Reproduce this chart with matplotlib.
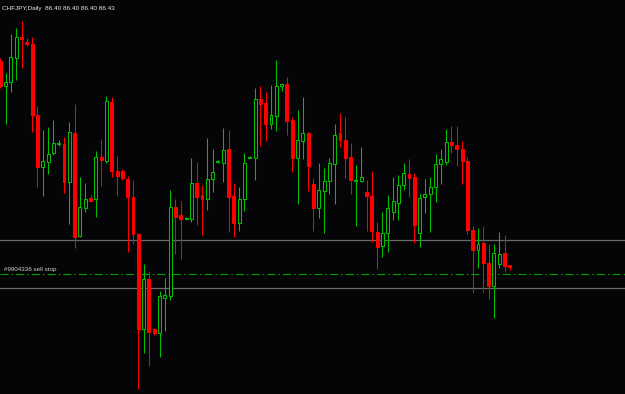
"""CHFJPY daily candlestick chart, MetaTrader style."""
import matplotlib
matplotlib.use("Agg")
import matplotlib.pyplot as plt
import numpy as np

SYMBOL = "CHFJPY,Daily"
HEADER_PRICES = ["86.40", "86.40", "86.40", "86.43"]

opens = [88.46, 88.21, 88.25, 88.49, 88.70, 88.65, 88.63, 87.92, 87.40, 87.45,
         87.54, 87.63, 87.63, 87.25, 87.74, 86.71, 86.99, 87.09, 87.08, 87.50,
         87.46, 88.05, 87.36, 87.36, 87.28, 87.10, 86.73, 85.78, 86.28, 85.78,
         85.74, 86.09, 86.11, 87.00, 86.92, 86.88, 86.88, 87.24, 87.12, 87.08,
         87.28, 87.45, 87.44, 87.58, 87.11, 86.84, 87.08, 87.49, 87.49, 88.08,
         88.04, 87.83, 87.91, 88.21, 88.23, 87.87, 87.49, 87.66, 87.74, 87.23,
         86.99, 87.16, 87.26, 87.43, 87.74, 87.67, 87.50, 87.26, 87.26, 87.15,
         87.11, 86.75, 86.61, 86.74, 86.95, 87.04, 87.22, 87.33, 87.30, 86.74,
         87.10, 87.13, 87.20, 87.43, 87.45, 87.65, 87.62, 87.58, 87.46, 86.77,
         86.57, 86.64, 86.44, 86.21, 86.43, 86.54, 86.42]
highs = [88.49, 88.34, 88.73, 88.79, 88.86, 88.69, 88.70, 88.01, 87.77, 87.80,
         87.87, 87.67, 87.70, 87.85, 88.03, 87.30, 87.24, 87.12, 87.56, 87.68,
         88.11, 88.10, 87.51, 87.38, 87.31, 87.27, 86.74, 86.43, 86.35, 85.79,
         86.16, 86.29, 87.17, 87.08, 87.06, 86.90, 87.49, 87.45, 87.22, 87.69,
         87.58, 87.47, 87.79, 87.77, 87.24, 87.20, 87.54, 87.51, 88.19, 88.21,
         88.15, 88.22, 88.47, 88.24, 88.30, 87.90, 87.97, 88.10, 87.75, 87.29,
         87.44, 87.39, 87.49, 87.83, 87.94, 87.90, 87.64, 87.42, 87.60, 87.27,
         87.36, 86.85, 86.95, 87.12, 87.30, 87.32, 87.44, 87.48, 87.34, 87.14,
         87.28, 87.30, 87.53, 87.58, 87.78, 87.81, 87.81, 87.66, 87.50, 86.81,
         86.79, 86.81, 86.63, 86.63, 86.75, 86.72, 86.42]
lows = [88.19, 87.83, 88.15, 88.27, 88.39, 88.61, 87.75, 87.20, 87.11, 87.33,
        87.52, 87.61, 87.14, 86.83, 86.59, 86.70, 86.95, 87.06, 86.90, 87.21,
        87.44, 87.30, 87.11, 87.27, 86.55, 86.63, 85.18, 85.54, 85.41, 85.72,
        85.50, 85.76, 86.07, 86.53, 86.48, 86.88, 86.85, 86.82, 86.72, 86.97,
        87.15, 87.44, 87.25, 86.75, 86.70, 86.76, 86.96, 87.49, 87.27, 87.61,
        87.66, 87.78, 87.76, 88.16, 87.72, 87.35, 87.03, 87.48, 87.16, 86.76,
        86.89, 86.74, 87.13, 87.03, 87.60, 87.29, 87.13, 86.81, 87.25, 86.76,
        86.65, 86.38, 86.50, 86.55, 86.87, 86.87, 87.17, 87.10, 86.64, 86.60,
        86.94, 86.75, 87.05, 87.23, 87.42, 87.54, 87.41, 87.23, 86.73, 86.14,
        86.39, 86.15, 86.08, 85.89, 86.39, 86.35, 86.37]
closes = [88.21, 88.25, 88.50, 88.70, 88.68, 88.63, 87.92, 87.40, 87.46, 87.53,
          87.64, 87.64, 87.25, 87.75, 86.70, 87.00, 87.08, 87.06, 87.50, 87.47,
          88.06, 87.36, 87.31, 87.29, 87.10, 86.73, 85.78, 86.28, 85.75, 85.74,
          86.11, 86.12, 87.00, 86.90, 86.88, 86.89, 87.24, 87.10, 87.08, 87.28,
          87.35, 87.46, 87.57, 87.10, 86.84, 87.08, 87.44, 87.50, 88.08, 88.03,
          87.83, 87.92, 88.21, 88.23, 87.86, 87.49, 87.67, 87.74, 87.41, 86.99,
          87.17, 87.26, 87.44, 87.72, 87.67, 87.49, 87.27, 87.27, 87.30, 87.11,
          86.76, 86.60, 86.74, 86.99, 87.06, 87.22, 87.34, 87.29, 86.82, 87.09,
          87.13, 87.20, 87.43, 87.48, 87.65, 87.62, 87.58, 87.46, 86.77, 86.57,
          86.63, 86.44, 86.21, 86.54, 86.53, 86.41, 86.40]

level_lines = [86.67, 86.19]
sell_stop = 86.33
sell_stop_label = "#9904336 sell stop"

BG = "#050507"
BULL = "#00c000"
BEAR = "#ff0000"

plt.rcParams["lines.scale_dashes"] = False

fig = plt.figure(figsize=(6.25, 3.94), dpi=100, facecolor=BG)
ax = fig.add_axes([0, 0, 1, 1])
ax.set_facecolor(BG)

o = np.array(opens)
h = np.array(highs)
l = np.array(lows)
c = np.array(closes)
x = np.arange(len(o))
up = c >= o
colors = np.where(up, BULL, BEAR)

# shadows first, bodies on top
ax.vlines(x, l, h, colors=colors, linewidth=0.75, zorder=2)

bottom = np.minimum(o, c)
height = np.maximum(np.abs(c - o), 0.008)
ax.bar(x[up], height[up], bottom=bottom[up], width=0.55,
       facecolor=BG, edgecolor=BULL, linewidth=0.75, zorder=3)
ax.bar(x[~up], height[~up], bottom=bottom[~up], width=0.55,
       facecolor=BEAR, edgecolor=BEAR, linewidth=0.75, zorder=3)

for lvl in level_lines:
    ax.axhline(lvl, color="#6c6c6c", linewidth=0.9, zorder=1)
ax.axhline(sell_stop, color="#00a000", linewidth=0.8, zorder=1,
           dashes=(5.8, 2.2, 1.1, 2.2))

ax.set_xlim(-0.06, 117.7)
ax.set_ylim(85.13, 89.07)
ax.axis("off")

fig.text(2 / 625, 1 - 10 / 394, SYMBOL + "  " + " ".join(HEADER_PRICES),
         color="#e8e8e8", fontsize=4.6, family="Liberation Sans")
ax.text(0.6, sell_stop + 0.018, sell_stop_label, color="#d0d0d0",
        fontsize=4.5, family="Liberation Sans", va="bottom")

fig.savefig("out.png", dpi=100, facecolor=BG)
